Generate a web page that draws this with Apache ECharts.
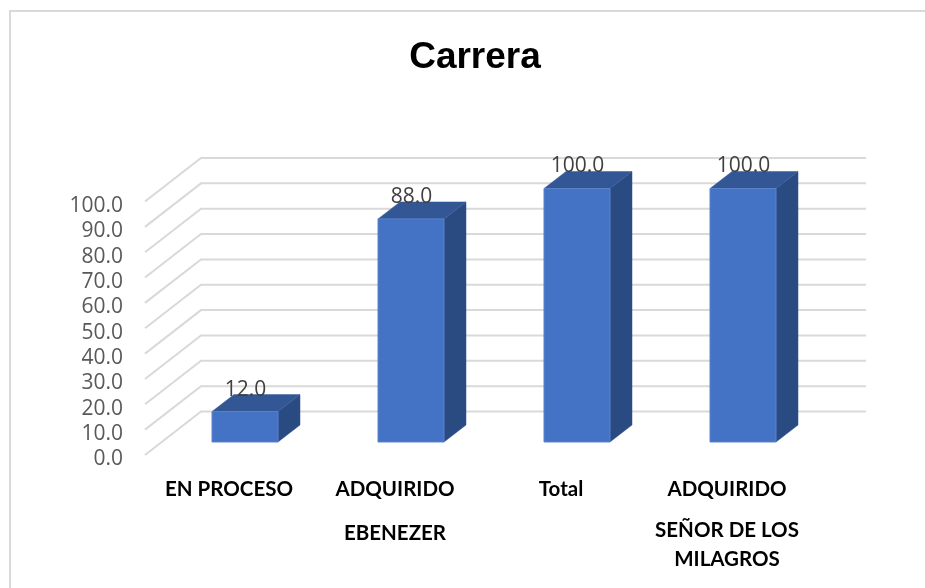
<!DOCTYPE html>
<html>
<head>
<meta charset="utf-8">
<style>html,body{margin:0;padding:0;background:#fff}#c{width:925px;height:588px}</style>
<script src="https://cdn.jsdelivr.net/npm/echarts@6/dist/echarts.min.js"></script>
</head>
<body>
<div id="c"></div>
<script>
const chartTitle = 'Carrera';
const categories = ['EN PROCESO', 'ADQUIRIDO\nEBENEZER', 'Total', 'ADQUIRIDO\nSEÑOR DE LOS\nMILAGROS'];
const values = [12, 88, 100, 100];
const ticks = [0, 10, 20, 30, 40, 50, 60, 70, 80, 90, 100];

const wallDX = 56, wallDY = 43.5;      // depth of the 3D floor
const barOffX = 17, barOffY = 13;      // bars stand part-way into the floor
const barW = 66, barDX = 22, barDY = 17;

const chart = echarts.init(document.getElementById('c'), null, {renderer: 'canvas'});

function wallItem(params, api) {
  const cs = params.coordSys;
  const y = api.coord([0, api.value(1)])[1];
  return {
    type: 'polyline',
    shape: {points: [[cs.x, y], [cs.x + wallDX, y - wallDY], [cs.x + cs.width + wallDX + 1, y - wallDY]]},
    style: {stroke: '#d9d9d9', lineWidth: 2, fill: null}
  };
}

function barItem(params, api) {
  const cx = api.coord([api.value(0), 0])[0] + barOffX;
  const base = api.coord([0, 0])[1] - barOffY;
  const top = api.coord([0, api.value(1)])[1] - barOffY;
  const x0 = cx - barW / 2, x1 = cx + barW / 2;
  return {
    type: 'group',
    children: [
      {type: 'polygon', shape: {points: [[x1, top], [x1 + barDX, top - barDY], [x1 + barDX, base - barDY], [x1, base]]},
        style: {fill: '#2a4a82', stroke: '#2f5090', lineWidth: 0.5}},
      {type: 'polygon', shape: {points: [[x0, top], [x1, top], [x1 + barDX, top - barDY], [x0 + barDX, top - barDY]]},
        style: {fill: '#335694', stroke: '#3a5f9f', lineWidth: 0.5}},
      {type: 'rect', shape: {x: x0, y: top, width: barW, height: base - top},
        style: {fill: '#4472c4', stroke: '#5a83cc', lineWidth: 1}},
      {type: 'text', z2: 10, style: {
        x: cx + 0.5, y: top - 22, text: api.value(1).toFixed(1), align: 'center', verticalAlign: 'middle',
        fill: '#404040', font: '21px "Open Sans"'}}
    ]
  };
}

function catLabel(value) {
  const lines = String(value).split('\n');
  return lines.map((l, i) => {
    const style = i === 0 ? 'first' : (i === 1 && lines.length === 2 ? 'gap' : 'next');
    return '{' + style + '|' + l + '}';
  }).join('\n');
}

const catText = {fontFamily: 'Lato', fontWeight: 'bold', fontSize: 20.5, color: '#000'};

chart.setOption({
  animation: false,
  backgroundColor: '#fff',
  title: {
    text: chartTitle, left: 470, top: 34, textAlign: 'center',
    textStyle: {fontFamily: 'Liberation Sans', fontWeight: 'bold', fontSize: 37, color: '#000'}
  },
  graphic: [{
    type: 'polyline', silent: true, z: -10,
    shape: {points: [[10, 588], [10, 11], [925, 11]]},
    style: {fill: null, stroke: '#d9d9d9', lineWidth: 2}
  }],
  grid: {left: 145, right: 116, top: 201.5, bottom: 133},
  xAxis: {
    type: 'category', data: categories,
    axisLine: {show: false}, axisTick: {show: false},
    axisLabel: {
      interval: 0, margin: 8, formatter: catLabel, padding: [0, 0, 0, 2],
      rich: {
        first: Object.assign({lineHeight: 53}, catText),
        gap: Object.assign({lineHeight: 35}, catText),
        next: Object.assign({lineHeight: 29}, catText)
      }
    }
  },
  yAxis: {
    type: 'value', min: 0, max: 100, interval: 10,
    axisLine: {show: false}, axisTick: {show: false}, splitLine: {show: false},
    axisLabel: {margin: 22, color: '#595959', fontFamily: 'Open Sans', fontSize: 21,
      verticalAlign: 'top', lineHeight: 9, formatter: v => v.toFixed(1)}
  },
  series: [
    {type: 'custom', name: 'walls', silent: true, clip: false, z: 1,
      data: ticks.map(t => [0, t]), encode: {x: 0, y: 1}, renderItem: wallItem},
    {type: 'custom', name: 'bars', silent: true, clip: false, z: 2,
      data: values.map((v, i) => [i, v]), encode: {x: 0, y: 1}, renderItem: barItem}
  ]
});
</script>
</body>
</html>
